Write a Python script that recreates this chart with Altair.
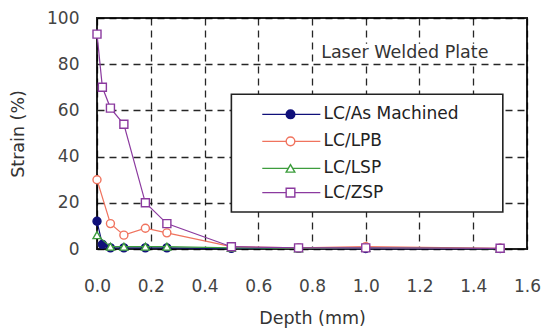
import altair as alt
import pandas as pd

# Series definitions
series_names = ["LC/As Machined", "LC/LPB", "LC/LSP", "LC/ZSP"]
series_colors = ["#10107a", "#f0735e", "#3d9d3d", "#8b3a9f"]
series_fills = ["#10107a", "#ffffff", "#ffffff", "#ffffff"]
series_shapes = ["circle", "circle", "triangle-up", "square"]

# Strain (%) versus depth (mm)
depth_am = [0, 0.02, 0.05, 0.1, 0.18, 0.26, 0.5, 0.75, 1.0, 1.5]
strain_am = [12, 2, 0.5, 0.5, 0.5, 0.5, 0.3, 0.3, 0.2, 0.2]
depth_lpb = [0, 0.05, 0.1, 0.18, 0.26, 0.5, 0.75, 1.0, 1.5]
strain_lpb = [30, 11, 6, 9, 7, 1, 0.5, 1, 0.3]
depth_lsp = [0, 0.05, 0.1, 0.18, 0.26, 0.5, 0.75, 1.0, 1.5]
strain_lsp = [6, 1, 1, 1, 1, 0.5, 0.3, 0.5, 0.2]
depth_zsp = [0, 0.02, 0.05, 0.1, 0.18, 0.26, 0.5, 0.75, 1.0, 1.5]
strain_zsp = [93, 70, 61, 54, 20, 11, 1, 0.5, 0.5, 0.3]

x_ticks = [0.0, 0.2, 0.4, 0.6, 0.8, 1.0, 1.2, 1.4, 1.6]
y_ticks = [0, 20, 40, 60, 80, 100]

annotation = "Laser Welded Plate"

FONT = "DejaVu Sans"

series_data = [
    (series_names[0], depth_am, strain_am),
    (series_names[1], depth_lpb, strain_lpb),
    (series_names[2], depth_lsp, strain_lsp),
    (series_names[3], depth_zsp, strain_zsp),
]

x_scale = alt.Scale(domain=[0, 1.6], nice=False, zero=False)
y_scale = alt.Scale(domain=[0, 100], nice=False)
color_scale = alt.Scale(domain=series_names, range=series_colors)
fill_scale = alt.Scale(domain=series_names, range=series_fills)
shape_scale = alt.Scale(domain=series_names, range=series_shapes)

x_axis = alt.Axis(values=x_ticks, format=".1f", title="Depth (mm)",
                  titlePadding=15, labelPadding=29,
                  labelFlush=False, labelOverlap=False)
y_axis = alt.Axis(values=y_ticks, format="d", title="Strain (%)",
                  titlePadding=19, labelPadding=18,
                  labelFlush=False, labelOverlap=False)


def X(field):
    return alt.X(field, type="quantitative", scale=x_scale, axis=x_axis)


def Y(field):
    return alt.Y(field, type="quantitative", scale=y_scale, axis=y_axis)


layers = []
for name, xs, ys in series_data:
    df = pd.DataFrame({"depth": xs, "strain": ys, "series": name})
    base = alt.Chart(df)
    line = base.mark_line(strokeWidth=1.2).encode(
        x=X("depth"), y=Y("strain"),
        color=alt.Color("series:N", scale=color_scale, legend=None),
    )
    pts = base.mark_point(size=64, strokeWidth=1.4, opacity=1, fillOpacity=1).encode(
        x=X("depth"), y=Y("strain"),
        stroke=alt.Stroke("series:N", scale=color_scale, legend=None),
        fill=alt.Fill("series:N", scale=fill_scale, legend=None),
        shape=alt.Shape("series:N", scale=shape_scale, legend=None),
    )
    layers += [line, pts]

# Legend box, drawn in the chart's data coordinates
box_df = pd.DataFrame({"x": [0.50], "x2": [1.51], "y": [67.0], "y2": [16.0]})
legend_box = alt.Chart(box_df).mark_rect(
    fill="white", stroke="#222", strokeWidth=1.6
).encode(x=X("x"), x2=alt.X2("x2"), y=Y("y"), y2=alt.Y2("y2"))

legend_df = pd.DataFrame({
    "series": series_names,
    "ly": [58.3, 46.6, 34.9, 24.4],
})
legend_df["lx"] = 0.615
legend_df["lx2"] = 0.831
legend_df["mx"] = 0.72
legend_df["tx"] = 0.843
lbase = alt.Chart(legend_df)
legend_lines = lbase.mark_rule(strokeWidth=1.3).encode(
    x=X("lx"), x2=alt.X2("lx2"), y=Y("ly"),
    color=alt.Color("series:N", scale=color_scale, legend=None),
)
legend_pts = lbase.mark_point(size=75, strokeWidth=1.4, opacity=1, fillOpacity=1).encode(
    x=X("mx"), y=Y("ly"),
    stroke=alt.Stroke("series:N", scale=color_scale, legend=None),
    fill=alt.Fill("series:N", scale=fill_scale, legend=None),
    shape=alt.Shape("series:N", scale=shape_scale, legend=None),
)
legend_text = lbase.mark_text(
    align="left", baseline="middle", font=FONT, fontSize=17, color="#222"
).encode(x=X("tx"), y=Y("ly"), text="series:N")

# Annotation with a white backing
ann_bg_df = pd.DataFrame({"x": [0.82], "x2": [1.50], "y": [88.8], "y2": [80.6]})
ann_bg = alt.Chart(ann_bg_df).mark_rect(fill="white").encode(
    x=X("x"), x2=alt.X2("x2"), y=Y("y"), y2=alt.Y2("y2"))
ann_df = pd.DataFrame({"x": [0.834], "y": [84.7], "label": [annotation]})
ann = alt.Chart(ann_df).mark_text(
    align="left", baseline="middle", font=FONT, fontSize=17.5, color="#333"
).encode(x=X("x"), y=Y("y"), text="label:N")

chart = alt.layer(
    *layers, ann_bg, ann, legend_box, legend_lines, legend_pts, legend_text
).properties(
    width=430, height=231,
    autosize=alt.AutoSizeParams(type="none"),
    padding={"left": 97, "top": 18, "right": 14, "bottom": 82},
    background="white",
).configure_view(
    stroke="#222", strokeWidth=2
).configure_axis(
    grid=True, gridColor="#000", gridDash=[7, 5], gridWidth=1.3, gridOpacity=0.85,
    domain=False, ticks=False,
    labelFont=FONT, labelFontSize=17, labelColor="#444",
    titleFont=FONT, titleFontSize=17.5, titleFontWeight="normal", titleColor="#333",
)

chart.save("out.html", embed_options={"renderer": "svg", "actions": False})
